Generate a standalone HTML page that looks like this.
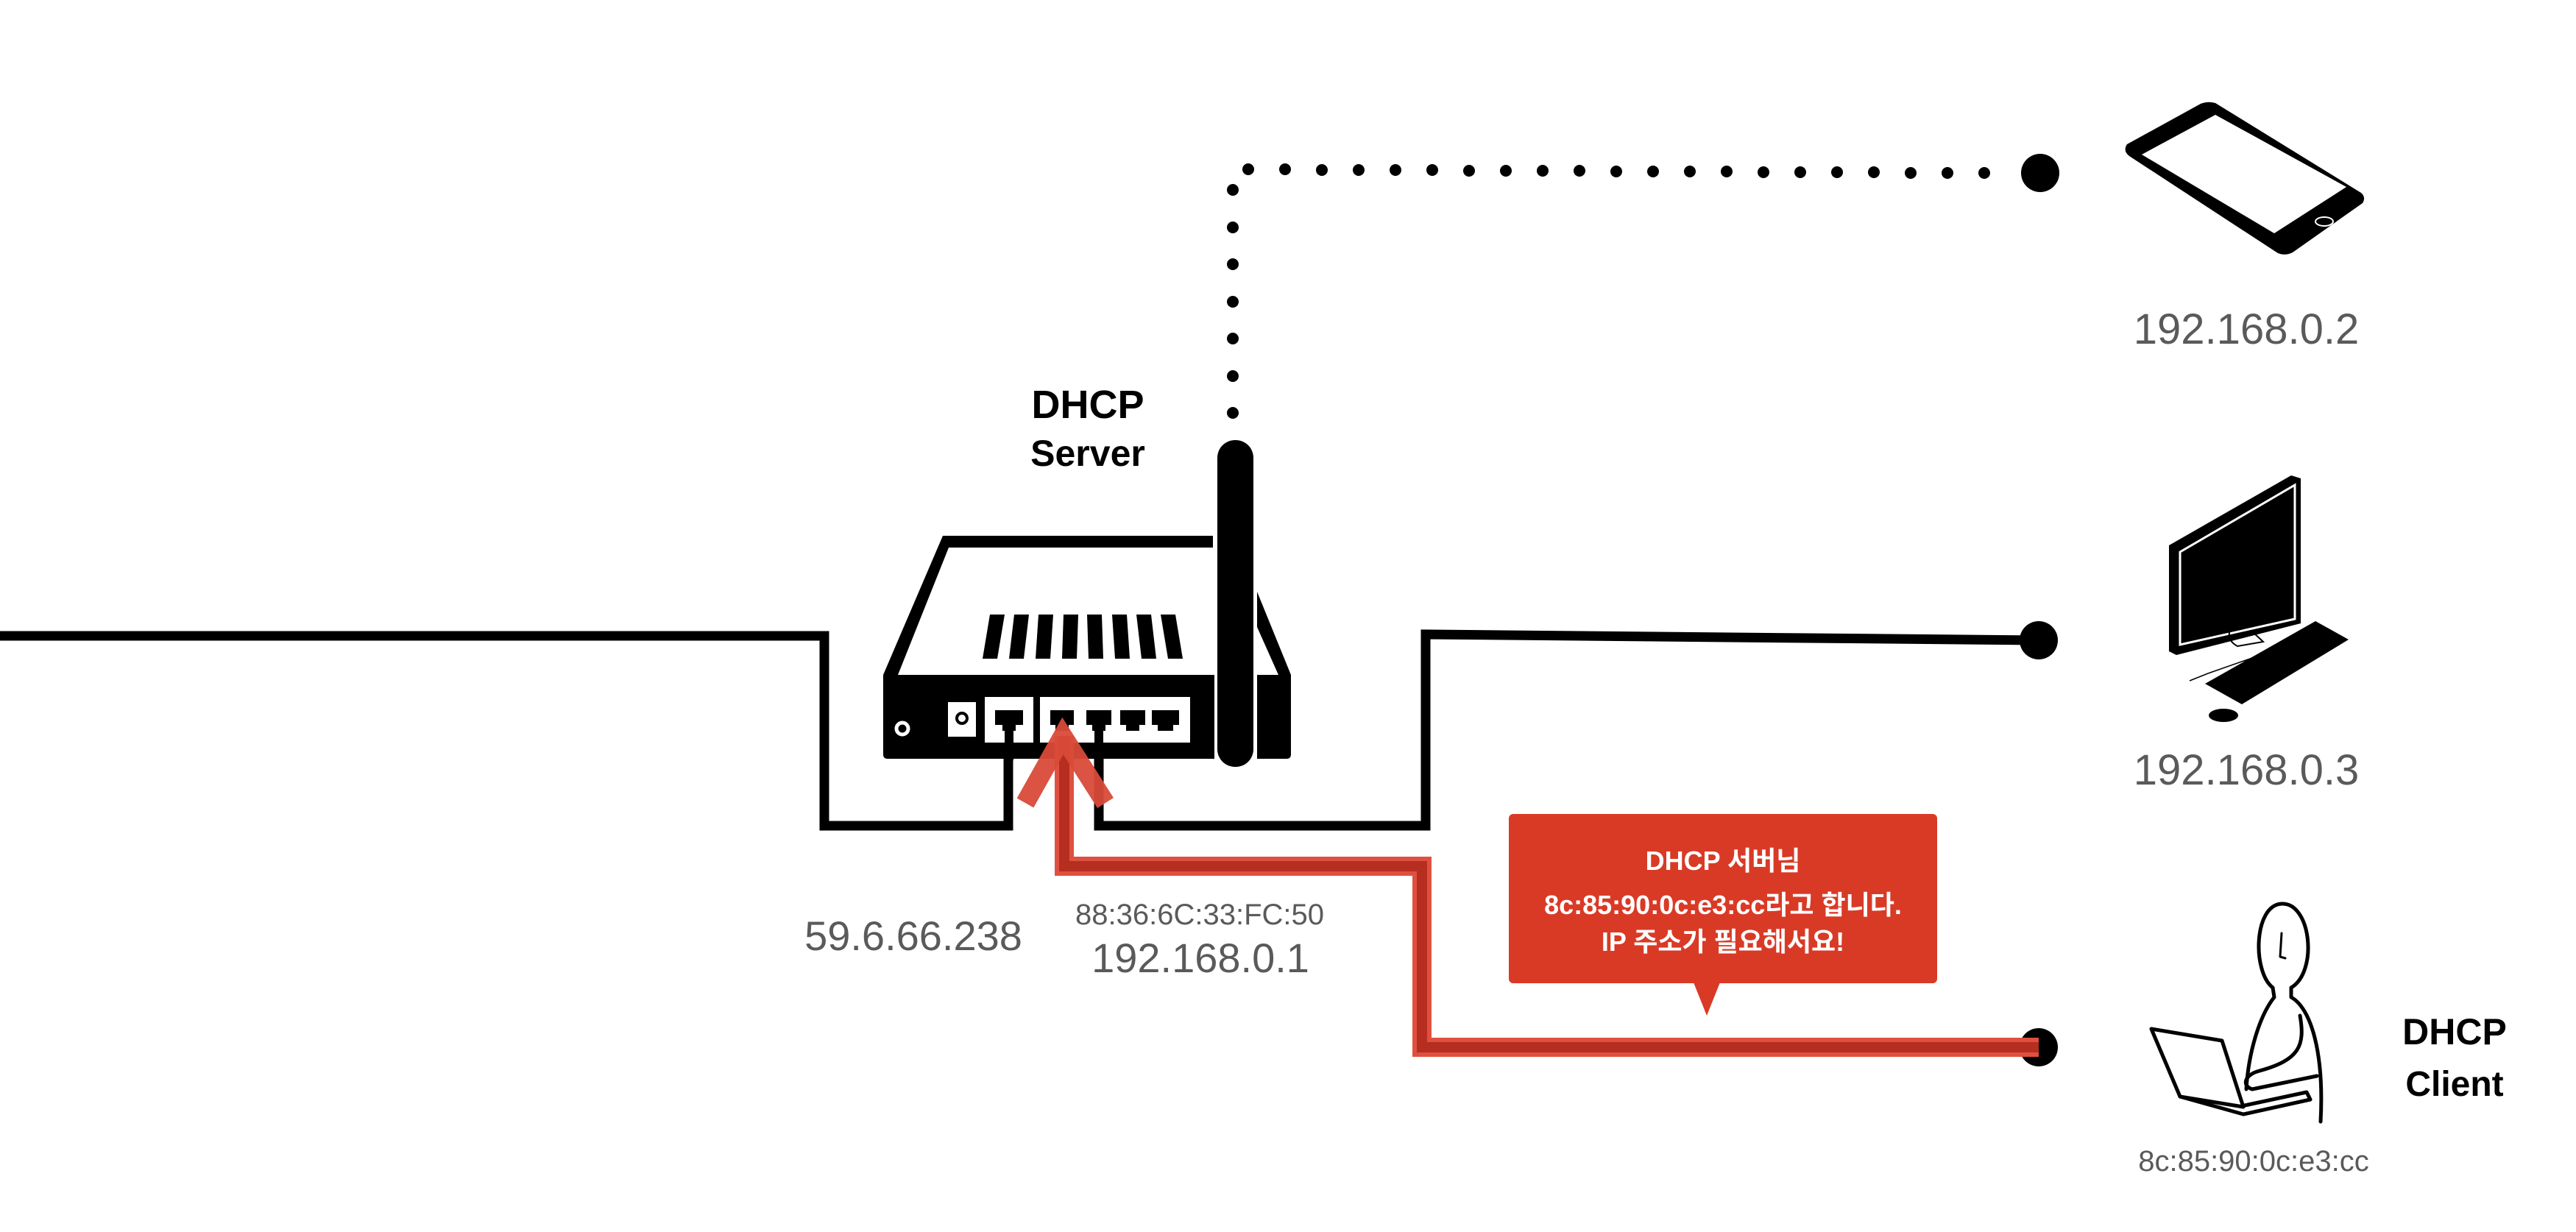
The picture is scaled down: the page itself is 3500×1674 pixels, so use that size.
<!DOCTYPE html>
<html><head><meta charset="utf-8"><style>
html,body{margin:0;padding:0;background:#fff}
svg{display:block}
.lt{font-family:"Liberation Sans",sans-serif;fill:#5a5a5a}
.bd{font-family:"Liberation Sans","Noto Sans CJK KR",sans-serif;font-weight:bold}
</style></head><body>
<svg width="3500" height="1674" viewBox="0 0 3500 1674" xmlns="http://www.w3.org/2000/svg">
<g fill="#000">
<circle cx="1696" cy="230" r="8"/><circle cx="1746" cy="230" r="8"/><circle cx="1796" cy="231" r="8"/><circle cx="1846" cy="231" r="8"/><circle cx="1896" cy="231" r="8"/><circle cx="1946" cy="231" r="8"/><circle cx="1996" cy="232" r="8"/><circle cx="2046" cy="232" r="8"/><circle cx="2096" cy="232" r="8"/><circle cx="2146" cy="232" r="8"/><circle cx="2196" cy="233" r="8"/><circle cx="2246" cy="233" r="8"/><circle cx="2296" cy="233" r="8"/><circle cx="2346" cy="233" r="8"/><circle cx="2396" cy="234" r="8"/><circle cx="2446" cy="234" r="8"/><circle cx="2496" cy="234" r="8"/><circle cx="2546" cy="234" r="8"/><circle cx="2596" cy="235" r="8"/><circle cx="2646" cy="235" r="8"/><circle cx="2696" cy="235" r="8"/>
<circle cx="1675" cy="258" r="8"/><circle cx="1675" cy="309" r="8"/><circle cx="1675" cy="359" r="8"/><circle cx="1675" cy="410" r="8"/><circle cx="1675" cy="460" r="8"/><circle cx="1675" cy="511" r="8"/><circle cx="1675" cy="561" r="8"/>
<circle cx="2772" cy="235" r="26"/><circle cx="2770" cy="870" r="26"/><circle cx="2770" cy="1423" r="26"/>
</g>
<g fill="none" stroke="#000" stroke-width="13">
<path d="M0 864 H1120 V1122 H1370 V1028"/>
<path d="M1493 1028 V1122 H1937 V862 L2770 870"/>
</g>
<path d="M1281 728 H1648 V744 H1289 L1220 917 H1650 V1031 H1206 Q1200 1031 1200 1025 V917 Z" fill="#000"/>
<path d="M1708 804 L1754 917 V1025 Q1754 1031 1748 1031 H1708 V917 H1737 L1708 852 Z" fill="#000"/>
<g fill="#000">
<polygon points="1335,895 1355,895 1365,835 1345,835"/>
<polygon points="1371,895 1391,895 1398,835 1378,835"/>
<polygon points="1407,895 1427,895 1431,835 1411,835"/>
<polygon points="1443,895 1463,895 1465,835 1445,835"/>
<polygon points="1479,895 1499,895 1497,835 1477,835"/>
<polygon points="1515,895 1535,895 1531,835 1511,835"/>
<polygon points="1551,895 1571,895 1564,835 1544,835"/>
<polygon points="1587,895 1607,895 1597,835 1577,835"/>
</g>
<rect x="1654" y="598" width="49" height="444" rx="24" fill="#000"/>
<rect x="1338" y="947" width="66" height="62" fill="#fff"/>
<rect x="1413" y="947" width="204" height="62" fill="#fff"/>
<rect x="1288" y="954" width="38" height="47" fill="#fff"/>
<circle cx="1307" cy="976" r="7" fill="none" stroke="#000" stroke-width="4"/>
<circle cx="1226" cy="990" r="8" fill="none" stroke="#fff" stroke-width="5"/>
<g fill="#000">
<path d="M1352 965 H1390 V985 H1380 V993 H1362 V985 H1352 Z"/><rect x="1365" y="993" width="12" height="40"/>
<path d="M1427 965 H1459 V985 H1452 V993 H1434 V985 H1427 Z"/>
<path d="M1476 965 H1510 V985 H1502 V993 H1484 V985 H1476 Z"/><rect x="1487" y="993" width="12" height="40"/>
<path d="M1522 965 H1556 V985 H1548 V993 H1530 V985 H1522 Z"/>
<path d="M1565 965 H1602 V985 H1594 V993 H1573 V985 H1565 Z"/>
</g>
<path d="M1446 1000 V1177 H1932 V1423 H2770" fill="none" stroke="#e05040" stroke-width="26"/>
<path d="M1446 1000 V1177 H1932 V1423 H2770" fill="none" stroke="#b52e1f" stroke-width="14"/>
<path d="M1393 1091 L1444 1000 L1502 1091" fill="none" stroke="#d94a38" stroke-opacity="0.95" stroke-width="26"/>
<rect x="2050" y="1106" width="582" height="230" rx="6" fill="#d93a26"/>
<polygon points="2301,1335 2337,1335 2319,1380" fill="#d93a26"/>
<g class="bd" fill="#fff" font-size="36" text-anchor="middle">
<text x="2341" y="1182">DHCP 서버님</text>
<text x="2341" y="1242">8c:85:90:0c:e3:cc라고 합니다.</text>
<text x="2341" y="1292">IP 주소가 필요해서요!</text>
</g>
<g class="bd" fill="#000" text-anchor="middle">
<text x="1478" y="568" font-size="54">DHCP</text>
<text x="1478" y="633" font-size="50">Server</text>
<text x="3335" y="1419" font-size="50">DHCP</text>
<text x="3335" y="1489" font-size="48">Client</text>
</g>
<g class="lt" text-anchor="middle">
<text x="1241" y="1291" font-size="56">59.6.66.238</text>
<text x="1630" y="1256" font-size="40">88:36:6C:33:FC:50</text>
<text x="1631" y="1321" font-size="56">192.168.0.1</text>
<text x="3052" y="467" font-size="58">192.168.0.2</text>
<text x="3052" y="1066" font-size="58">192.168.0.3</text>
<text x="3062" y="1591" font-size="40">8c:85:90:0c:e3:cc</text>
</g>
<path d="M2890 196 L2990 141 Q3000 137 3010 140 L3208 262 Q3215 268 3210 276 L3115 343 Q3105 348 3095 344 L2893 212 Q2884 205 2890 196 Z" fill="#000"/>
<polygon points="2910,210 3010,156 3188,254 3090,317" fill="#fff"/>
<ellipse cx="3158" cy="301" rx="12" ry="6" fill="none" stroke="#fff" stroke-width="2"/>
<polygon points="2947,741 3113,646 3126,650 3126,847 2957,890 2947,885" fill="#000"/>
<polygon points="2962,750 3118,659 3118,841 2962,876" fill="#000" stroke="#fff" stroke-width="3"/>
<path d="M3030 855 Q3025 870 3040 878 L3075 872 L3060 858" fill="none" stroke="#000" stroke-width="2"/>
<path d="M2975 925 L3000 915 L3100 880 L3130 885 L3105 890" fill="none" stroke="#000" stroke-width="1.5"/>
<polygon points="2996,929 3146,844 3191,869 3046,957" fill="#000"/>
<ellipse cx="3021" cy="972" rx="20" ry="9" fill="#000"/>
<g fill="none" stroke="#000" stroke-width="5" stroke-linejoin="round" stroke-linecap="round">
<path d="M3088 1342 C3060 1320 3062 1230 3100 1228 C3140 1226 3150 1320 3113 1342 L3113 1355 C3140 1370 3158 1430 3153 1524"/>
<path d="M3088 1342 L3090 1355 C3070 1380 3055 1430 3052 1480"/>
<path d="M3100 1268 L3098 1300 L3105 1302" stroke-width="3"/>
<path d="M3125 1380 C3132 1420 3125 1440 3070 1455 C3050 1460 3045 1475 3060 1480 L3148 1462"/>
<path d="M2923 1398 L3019 1414 L3048 1504 L2962 1490 Z"/>
<path d="M2962 1490 L3048 1514 L3139 1494 L3134 1484 L3050 1502"/>
</g>
</svg>
</body></html>
